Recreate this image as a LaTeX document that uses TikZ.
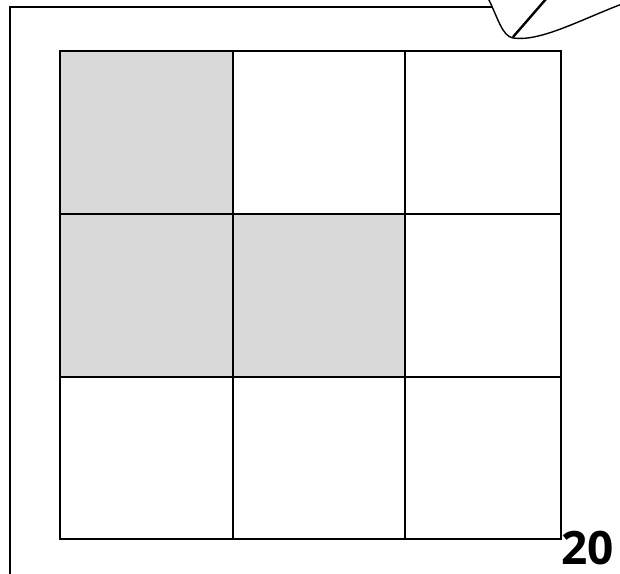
\documentclass[tikz,border=0pt]{standalone}
\usepackage{fontspec}
\newfontfamily\numfont{Open Sans}
\begin{document}
\begin{tikzpicture}[x=1pt,y=-1pt,
  gridline/.style={line width=2.4pt,line join=miter},
  shaded/.style={fill=black!15},
  frameline/.style={line width=2.5pt}]
\useasboundingbox (0,0) rectangle (620,573);
% page frame
\draw[frameline] (10,580) -- (10,7) -- (495,7);
% page curl
\draw[line width=1.4pt,fill=white] (488,-2) .. controls (498,18) and (502,36) .. (513,38)
   .. controls (540,42) and (580,20) .. (622,4) -- (622,-2) -- cycle;
\draw[line width=2.4pt] (513,37) -- (546,-1);
% shaded cells
\fill[shaded] (60,51) rectangle (233,214);
\fill[shaded] (60,214) rectangle (233,377);
\fill[shaded] (233,214) rectangle (405,377);
% grid
\draw[gridline] (60,51) rectangle (561,539);
\draw[gridline] (233,51) -- (233,539);
\draw[gridline] (405,51) -- (405,539);
\draw[gridline] (60,214) -- (561,214);
\draw[gridline] (60,377) -- (561,377);
% page number
\node[anchor=base west,inner sep=0pt,font=\numfont\bfseries\fontsize{46}{46}\selectfont] (num) at (561,564) {20};
\end{tikzpicture}
\end{document}
